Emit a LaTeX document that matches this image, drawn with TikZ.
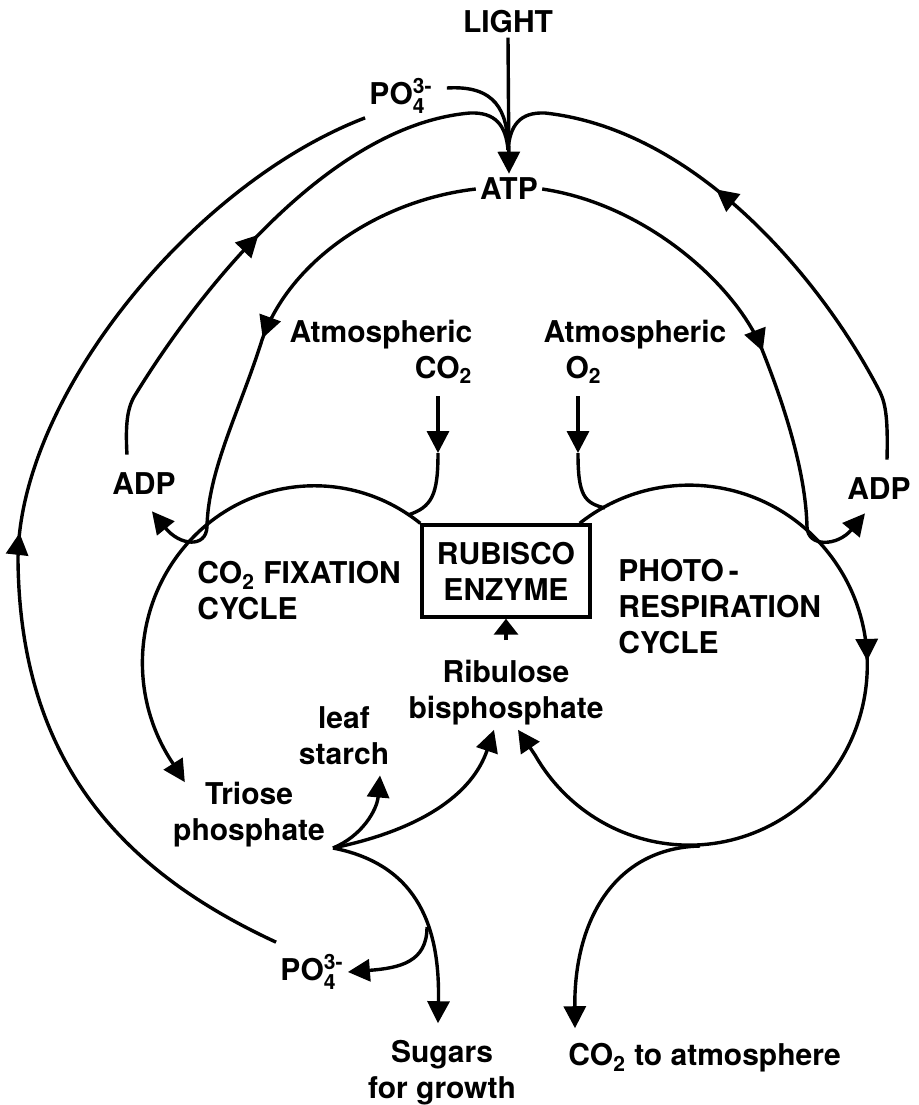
\documentclass[tikz,border=0pt]{standalone}
\usepackage{amsmath}
\usepackage{fontspec}
\setmainfont{TeX Gyre Heros}
\usetikzlibrary{arrows.meta,decorations.markings}
\tikzset{lbl/.style={align=center, inner sep=2pt}, flow/.style={line width=1.7pt}, arr/.style={flow, -{Triangle[length=11pt,width=11pt]}}, arrs/.style={flow, -{Triangle[length=8pt,width=12pt]}}, midarr/.style={flow, postaction={decorate}, decoration={markings, mark=at position #1 with {\arrow{Triangle[length=11pt,width=11pt]}}}}, enzbox/.style={draw, line width=1.7pt, align=center, minimum width=84pt, minimum height=46pt, inner sep=2pt}}
\newcommand{\phos}{PO$_{\text{4}}^{\text{3-}}$}
\begin{document}
\begin{tikzpicture}[x=0.5pt,y=-0.5pt,font=\fontsize{15}{18}\selectfont\bfseries]
\useasboundingbox (0,0) rectangle (919,1105);
% labels
\node[lbl] (light) at (508,22) {LIGHT};
\node[lbl] (po4top) at (401,96) {\phos};
\node[lbl] (atp) at (509,189) {ATP};
\node[lbl] (adpL) at (144,484) {ADP};
\node[lbl] (adpR) at (879,489) {ADP};
\node[lbl,align=right] (co2in) at (381,352) {Atmospheric\\CO\textsubscript{2}};
\node[lbl,align=left] (o2in) at (635,352) {Atmospheric\\\hspace*{11pt}O\textsubscript{2}};
\node[enzbox] (rubisco) at (506,571) {RUBISCO\\ENZYME};
\node[lbl,align=left,anchor=west] (co2fix) at (193,591) {CO\textsubscript{2} FIXATION\\CYCLE};
\node[lbl,align=left,anchor=west] (photo) at (614,607) {PHOTO\,-\\RESPIRATION\\CYCLE};
\node[lbl] (ribulose) at (506,693) {Ribulose\\bisphosphate};
\node[lbl] (leaf) at (344,736) {leaf\\starch};
\node[lbl] (triose) at (249,815) {Triose\\phosphate};
\node[lbl] (po4bot) at (312,972) {\phos};
\node[lbl] (sugars) at (442,1073) {Sugars\\for growth};
\node[lbl,anchor=west] (co2atm) at (564,1058) {CO\textsubscript{2} to atmosphere};
% junction points
\coordinate (atpin) at (508,150);
\coordinate (jL) at (207,527);
\coordinate (jR) at (807,527);
\coordinate (co2j) at (438,453);
\coordinate (o2j) at (578,453);
\coordinate (tp) at (333,848);
\coordinate (pj) at (427,927);
\coordinate (cb) at (700,846);
% light and phosphate feeding ATP
\draw[arr] (light.south) -- (atp.north);
\draw[flow] ([shift={(5pt,4pt)}]po4top.east) .. controls (495,85) and (508,110) .. (atpin);
\draw[midarr=0.46] ([shift={(-8.5pt,7pt)}]adpL.north) .. controls (125,420) and (128,405) .. (137,392) .. controls (200,290) and (330,125) .. (470,113) .. controls (495,112) and (506,125) .. (atpin);
\draw[midarr=0.57] ([shift={(4pt,7pt)}]adpR.north) .. controls (888,420) and (886,405) .. (880,392) .. controls (825,285) and (700,130) .. (545,113) .. controls (520,112) and (510,125) .. (atpin);
\draw[midarr=0.48] ([yshift=4pt]po4bot.north west) .. controls (120,870) and (20,760) .. (18,560) .. controls (18,400) and (190,185) .. (po4top.south west);
% ATP used by both cycles
\draw[midarr=0.58] (atp.west) .. controls (380,200) and (290,260) .. (262,340) .. controls (240,410) and (208,470) .. (jL);
\draw[midarr=0.61] (atp.east) .. controls (650,205) and (740,290) .. (763,352) .. controls (790,420) and (806,480) .. (jR);
\draw[arr] (jL) .. controls (206,548) and (180,546) .. ([shift={(4pt,-6pt)}]adpL.south);
\draw[arr] (jR) .. controls (808,548) and (838,546) .. ([shift={(-7pt,-4.5pt)}]adpR.south);
% gases
\draw[arr] ([shift={(28.5pt,-4pt)}]co2in.south) -- (co2j);
\draw[flow] (co2j) .. controls (438,495) and (432,507) .. (408,515);
\draw[arr] ([shift={(-28.5pt,-4pt)}]o2in.south) -- (o2j);
\draw[flow] (o2j) .. controls (578,495) and (584,503) .. (605,508);
% the two cycles
\draw[arr] (rubisco.north west) arc[start angle=-52, end angle=-215, x radius=172, y radius=177] -- ([shift={(8pt,-2pt)}]triose.north west);
\draw[arr,midarr=0.44] ([xshift=-6pt]rubisco.north east) arc[start angle=-128, end angle=150, x radius=178, y radius=180] -- ([xshift=6pt]ribulose.south);
\draw[arrs] ([yshift=8pt]ribulose.north) -- (rubisco.south);
% triose phosphate outputs
\draw[arr] (tp) .. controls (362,836) and (377,810) .. ([shift={(18pt,-3pt)}]leaf.south);
\draw[arr] (tp) .. controls (420,830) and (472,795) .. ([xshift=-6pt]ribulose.south);
\draw[arr] (tp) .. controls (420,865) and (440,930) .. ([shift={(-2pt,6.5pt)}]sugars.north);
\draw[arr] (pj) .. controls (427,962) and (400,968) .. (po4bot.east);
\draw[arr] (cb) .. controls (615,848) and (574,920) .. ([shift={(5.5pt,5.5pt)}]co2atm.north west);
\end{tikzpicture}
\end{document}
